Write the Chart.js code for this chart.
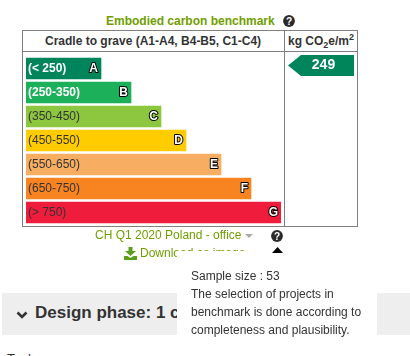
<!DOCTYPE html>
<html><head><meta charset="utf-8">
<script src="https://cdn.jsdelivr.net/npm/chart.js@4"></script>
<style>
html,body{margin:0;padding:0;background:#fff;overflow:hidden;width:410px;height:356px;font-family:"Liberation Sans",Arial,sans-serif;color:#333}
.a{position:absolute;white-space:nowrap}
#c{position:absolute;left:0;top:0;width:410px;height:356px}
.line{position:absolute;background:#808080}
.q{position:absolute;width:12px;height:12px}
</style></head><body>
<div class="a" style="left:2px;top:293px;width:408px;height:42px;background:#eee"></div>
<svg class="a" style="left:16px;top:310px" width="12" height="10" viewBox="0 0 12 10"><path d="M1.5 2.5 L6 7 L10.5 2.5" fill="none" stroke="#333" stroke-width="2.6"/></svg>
<div class="a" style="left:35px;top:302px;font-size:17px;font-weight:bold;line-height:22px;color:#333">Design phase: 1 c</div>
<div class="a" style="left:7px;top:351px;font-size:13px;line-height:16px;color:#333">Tools</div>

<div class="a" id="title" style="left:106px;top:14px;font-size:12px;font-weight:bold;line-height:14px;color:#6f9e00">Embodied carbon benchmark</div>
<svg class="q" style="left:283px;top:15px" viewBox="0 0 13 13"><circle cx="6.5" cy="6.5" r="6.4" fill="#2b2b2b"/><text x="6.5" y="10.5" font-size="11" font-weight="bold" text-anchor="middle" fill="#fff" font-family="Liberation Sans">?</text></svg>

<div class="line" style="left:22px;top:30px;width:336px;height:1px"></div>
<div class="line" style="left:22px;top:51px;width:336px;height:1px"></div>
<div class="line" style="left:22px;top:226px;width:336px;height:1px"></div>
<div class="line" style="left:22px;top:30px;width:1px;height:197px"></div>
<div class="line" style="left:284px;top:30px;width:1px;height:197px"></div>
<div class="line" style="left:357px;top:30px;width:1px;height:197px"></div>
<div class="a" style="left:45px;top:34px;font-size:12px;font-weight:bold;line-height:14px;color:#333">Cradle to grave (A1-A4, B4-B5, C1-C4)</div>
<div class="a" style="left:288px;top:34px;font-size:12px;font-weight:bold;line-height:14px;color:#333">kg CO<sub style="font-size:9px;line-height:0">2</sub>e/m<sup style="font-size:9px;line-height:0">2</sup></div>

<canvas id="c" width="410" height="356"></canvas>

<div class="a" style="left:95px;top:228px;font-size:12px;line-height:14px;color:#6f9e00">CH Q1 2020 Poland - office</div>
<svg class="a" style="left:245px;top:234px" width="9" height="5"><path d="M0 0H8L4 4Z" fill="#aaa"/></svg>
<svg class="q" style="left:271px;top:230px" viewBox="0 0 13 13"><circle cx="6.5" cy="6.5" r="6.4" fill="#2b2b2b"/><text x="6.5" y="10.5" font-size="11" font-weight="bold" text-anchor="middle" fill="#fff" font-family="Liberation Sans">?</text></svg>
<svg class="a" style="left:124px;top:247px" width="13" height="13" viewBox="0 0 13 13"><path d="M4.5 0H8.5V4H12L6.5 9L1 4H4.5Z M0 9H3.5L6.5 11L9.5 9H13V13H0Z" fill="#5a9e1e"/></svg>
<div class="a" style="left:140px;top:246px;font-size:12px;line-height:14px;color:#6f9e00">Download as image</div>

<div class="a" style="left:177px;top:251px;width:200px;height:92px;background:#fff"></div>
<svg class="a" style="left:272px;top:247px" width="11" height="6"><path d="M5.5 0L11 6H0Z" fill="#000"/></svg>
<div class="a" style="left:191px;top:267px;font-size:12px;line-height:18px;color:#333">Sample size : 53<br>The selection of projects in<br>benchmark is done according to<br>completeness and plausibility.</div>

<script>
const categories = ["(< 250)", "(250-350)", "(350-450)", "(450-550)", "(550-650)", "(650-750)", "(> 750)"];
const grades = ["A", "B", "C", "D", "E", "F", "G"];
const barLengths = [75, 105, 135, 160, 195, 225, 255];
const barColors = ["#00845a", "#1cb05a", "#8dc63f", "#ffcc00", "#f7ae63", "#f78420", "#f01c3c"];
const labelColors = ["#ffffff", "#ffffff", "#333333", "#333333", "#333333", "#333333", "#333333"];
const benchmarkValue = "249";
const benchmarkRow = 0;

const labels = {
  id: "labels",
  afterDatasetsDraw(chart) {
    const ctx = chart.ctx, bars = chart.getDatasetMeta(0).data;
    ctx.save();
    ctx.textBaseline = "middle";
    bars.forEach((b, i) => {
      ctx.textAlign = "left";
      ctx.font = (i < 2 ? "bold " : "") + '12px "Liberation Sans"';
      ctx.fillStyle = labelColors[i];
      ctx.fillText(categories[i], 28, b.y + 0.5);
      ctx.textAlign = "right";
      ctx.font = 'bold 12px "Liberation Sans"';
      ctx.lineWidth = 2; ctx.strokeStyle = "#000"; ctx.lineJoin = "round";
      ctx.strokeText(grades[i], b.x - 3, b.y + 0.5);
      ctx.fillStyle = "#fff";
      ctx.fillText(grades[i], b.x - 3, b.y + 0.5);
    });
    const y = bars[benchmarkRow].y;
    ctx.fillStyle = barColors[benchmarkRow];
    ctx.beginPath();
    ctx.moveTo(288, y - 3);
    ctx.lineTo(301, y - 13.5);
    ctx.lineTo(354, y - 13.5);
    ctx.lineTo(354, y + 7.5);
    ctx.lineTo(301, y + 7.5);
    ctx.closePath();
    ctx.fill();
    ctx.fillStyle = "#fff";
    ctx.textAlign = "center";
    ctx.font = 'bold 14px "Liberation Sans"';
    ctx.fillText(benchmarkValue, 323.5, y - 3);
    ctx.restore();
  }
};

new Chart(document.getElementById("c"), {
  type: "bar",
  data: { labels: categories, datasets: [{ data: barLengths, backgroundColor: barColors, barThickness: 21, borderWidth: 0 }] },
  options: {
    indexAxis: "y", responsive: false, animation: false,
    layout: { padding: { left: 26, right: 129, top: 56.5, bottom: 131.5 } },
    scales: {
      x: { display: false, min: 0, max: 255 },
      y: { display: false }
    },
    plugins: { legend: { display: false }, tooltip: { enabled: false } }
  },
  plugins: [labels]
});
</script>
</body></html>
